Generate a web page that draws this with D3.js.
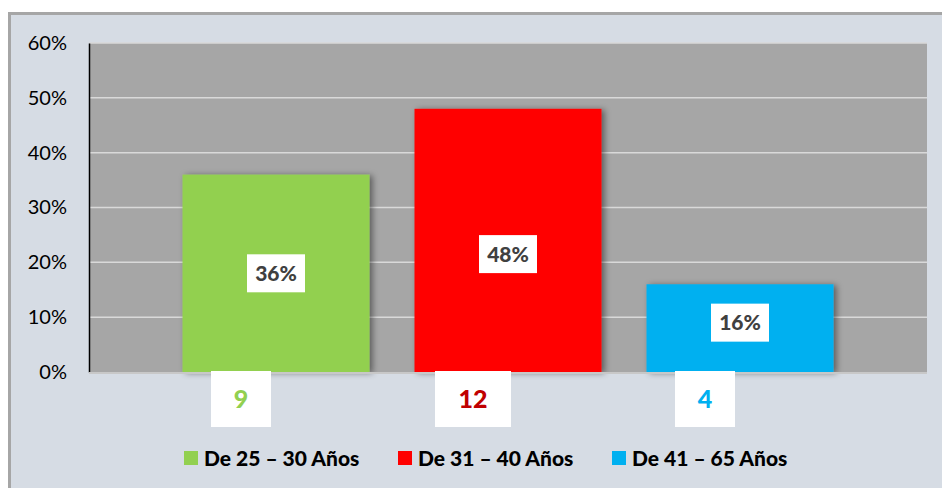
<!DOCTYPE html>
<html>
<head>
<meta charset="utf-8">
<script src="https://cdn.jsdelivr.net/npm/d3@7"></script>
<style>
  body { margin: 0; background: #fff; }
  text { font-family: Lato, "Open Sans", sans-serif; }
</style>
</head>
<body>
<svg id="chart" width="942" height="488"></svg>
<script>
// Chart data
const categories = ['De 25 – 30 Años', 'De 31 – 40 Años', 'De 41 – 65 Años'];
const shares = [0.36, 0.48, 0.16];
const counts = [9, 12, 4];
const labelAt = [0.18, 0.215, 0.09]; // where the % label sits inside each bar
const colors = ['#92d050', '#ff0000', '#00b0f0'];
const countColors = ['#92d050', '#c00000', '#00b0f0'];
const yTicks = [0, 0.1, 0.2, 0.3, 0.4, 0.5, 0.6];

const svg = d3.select('#chart');

// Outer frame
svg.append('rect')
    .attr('x', 9.5).attr('y', 13.5)
    .attr('width', 960).attr('height', 500)
    .attr('fill', '#d6dce4')
    .attr('stroke', '#a6a6a6')
    .attr('stroke-width', 3);

// Shadow filter for bars
const defs = svg.append('defs');
const f = defs.append('filter').attr('id', 'shadow')
    .attr('x', '-10%').attr('y', '-10%').attr('width', '130%').attr('height', '130%');
f.append('feDropShadow')
    .attr('dx', 3).attr('dy', 1).attr('stdDeviation', 3)
    .attr('flood-color', '#000').attr('flood-opacity', 0.45);

const plot = {left: 89, top: 43, right: 927, bottom: 372};

const y = d3.scaleLinear().domain([0, 0.6]).range([plot.bottom, plot.top]);
const x = d3.scaleBand().domain(categories)
    .range([160, 856])
    .paddingInner(0.194)
    .paddingOuter(0.097);

// Plot background
svg.append('rect')
    .attr('x', plot.left).attr('y', plot.top)
    .attr('width', plot.right - plot.left)
    .attr('height', plot.bottom - plot.top)
    .attr('fill', '#a6a6a6');

// Gridlines
svg.append('g').selectAll('line')
    .data(yTicks.filter(d => d > 0))
    .join('line')
    .attr('x1', plot.left).attr('x2', plot.right)
    .attr('y1', d => y(d)).attr('y2', d => y(d))
    .attr('stroke', '#d9d9d9')
    .attr('stroke-width', 1.5);

// Y axis
const yAxis = d3.axisLeft(y)
    .tickValues(yTicks)
    .tickFormat(d3.format('.0%'))
    .tickSize(0)
    .tickPadding(22);
const yAxisG = svg.append('g')
    .attr('transform', `translate(${plot.left},0)`)
    .call(yAxis);
yAxisG.select('.domain').attr('stroke', '#000').attr('stroke-width', 1.5);
yAxisG.selectAll('text')
    .attr('font-size', 20)
    .attr('fill', '#000')
    .style('font-family', 'Lato, sans-serif');

// Bars
svg.append('g').selectAll('rect')
    .data(categories)
    .join('rect')
    .attr('x', d => x(d))
    .attr('y', (d, i) => y(shares[i]))
    .attr('width', x.bandwidth())
    .attr('height', (d, i) => y(0) - y(shares[i]))
    .attr('fill', (d, i) => colors[i])
    .attr('filter', 'url(#shadow)');

// Bottom axis line
svg.append('line')
    .attr('x1', plot.left).attr('x2', plot.right)
    .attr('y1', plot.bottom + 1).attr('y2', plot.bottom + 1)
    .attr('stroke', '#c8c8c8')
    .attr('stroke-width', 2);

// Percent labels
const pct = svg.append('g').selectAll('g')
    .data(categories)
    .join('g')
    .attr('transform', (d, i) => `translate(${x(d) + x.bandwidth() / 2},${y(labelAt[i])})`);
pct.append('rect')
    .attr('x', -29).attr('y', -19)
    .attr('width', 58).attr('height', 38)
    .attr('fill', '#fff');
pct.append('text')
    .attr('text-anchor', 'middle')
    .attr('dy', '0.36em')
    .attr('font-size', 21)
    .attr('font-weight', 900)
    .attr('fill', '#404040')
    .text((d, i) => d3.format('.0%')(shares[i]));

// Count labels below axis
const cnt = svg.append('g').selectAll('g')
    .data(categories)
    .join('g')
    .attr('transform', d => `translate(${x(d) + x.bandwidth() / 2 - 35},${plot.bottom + 27})`);
cnt.append('rect')
    .attr('x', (d, i) => counts[i] >= 10 ? -38 : -30)
    .attr('y', -28)
    .attr('width', (d, i) => counts[i] >= 10 ? 76 : 60)
    .attr('height', 56)
    .attr('fill', '#fff');
cnt.append('text')
    .attr('text-anchor', 'middle')
    .attr('dy', '0.36em')
    .attr('font-size', 25)
    .attr('font-weight', 900)
    .attr('fill', (d, i) => countColors[i])
    .text((d, i) => counts[i]);

// Legend
const legendX = [184, 398, 612];
const leg = svg.append('g').selectAll('g')
    .data(categories)
    .join('g')
    .attr('transform', (d, i) => `translate(${legendX[i]},458)`);
leg.append('rect')
    .attr('x', 0).attr('y', -7)
    .attr('width', 14).attr('height', 14)
    .attr('fill', (d, i) => colors[i]);
leg.append('text')
    .attr('x', 20)
    .attr('dy', '0.36em')
    .attr('font-size', 21)
    .attr('font-weight', 900)
    .attr('fill', '#000')
    .text(d => d);
</script>
</body>
</html>
